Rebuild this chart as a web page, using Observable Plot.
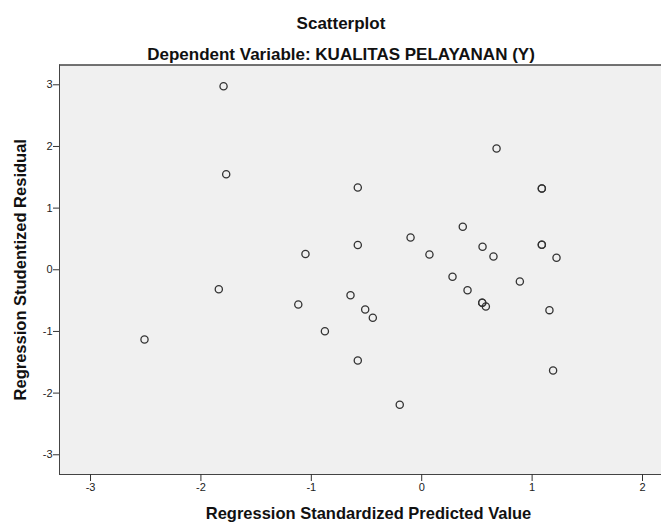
<!DOCTYPE html>
<html>
<head>
<meta charset="utf-8">
<script src="https://cdn.jsdelivr.net/npm/d3@7"></script>
<script src="https://cdn.jsdelivr.net/npm/@observablehq/plot@0.6"></script>
<style>
  html, body { margin: 0; padding: 0; background: #fff; overflow: hidden; }
  #wrap { width: 661px; height: 524px; position: relative; font-family: "Liberation Sans", Arial, sans-serif; }
  #hdr { position: relative; width: 661px; height: 62px; }
  .t { position: absolute; left: 0; width: 682px; text-align: center; font-weight: bold; font-size: 17px; line-height: 18px; color: #111; white-space: nowrap; }
  svg g[aria-label="y-axis label"] text { font-size: 16.5px; font-weight: bold; fill: #111; }
</style>
</head>
<body>
<div id="wrap">
  <div id="hdr">
    <div class="t" id="title" style="top:15px;"></div>
    <div class="t" id="subtitle" style="top:46px;"></div>
  </div>
  <div id="chart"></div>
</div>
<script>
const title = "Scatterplot";
const subtitle = "Dependent Variable: KUALITAS PELAYANAN (Y)";
const xLabel = "Regression Standardized Predicted Value";
const yLabel = "Regression Studentized Residual";

const predicted = [
  -1.795, -1.771, 0.678, -0.579, 1.088, 1.088, 0.372, -0.579, -1.053, -0.101,
  0.070, 0.551, 1.088, 1.088, 0.650, 1.221, -1.838, 0.279, 0.415, 0.889,
  -0.645, -1.118, -0.512, -0.443, -0.877, -2.511, -0.579, -0.199, 0.548, 0.548,
  0.581, 1.157, 1.190
];
const residual = [
  2.977, 1.550, 1.967, 1.335, 1.319, 1.319, 0.697, 0.402, 0.256, 0.524,
  0.248, 0.373, 0.405, 0.405, 0.216, 0.195, -0.315, -0.114, -0.331, -0.190,
  -0.412, -0.563, -0.644, -0.778, -0.996, -1.130, -1.471, -2.189, -0.535, -0.535,
  -0.595, -0.655, -1.633
];
const xTicks = [-3, -2, -1, 0, 1, 2];
const yTicks = [-3, -2, -1, 0, 1, 2, 3];
const xDomain = [-3.281, 2.172];
const yDomain = [-3.32, 3.321];

document.getElementById("title").textContent = title;
document.getElementById("subtitle").textContent = subtitle;

const points = predicted.map((x, i) => ({x, y: residual[i]}));

const chart = Plot.plot({
  width: 661,
  height: 462,
  marginLeft: 59,
  marginRight: 0,
  marginTop: 2.5,
  marginBottom: 50,
  style: { fontFamily: "'Liberation Sans', Arial, sans-serif", fontSize: "11px", color: "#222", background: "transparent" },
  x: { domain: xDomain },
  y: { domain: yDomain },
  marks: [
    Plot.frame({ fill: "#f0f0f0", stroke: null }),
    Plot.ruleX([xDomain[0]], { stroke: "#444", strokeWidth: 1 }),
    Plot.ruleY([yDomain[1]], { stroke: "#444", strokeWidth: 1.6 }),
    Plot.ruleY([yDomain[0]], { stroke: "#444", strokeWidth: 1.2 }),
    Plot.axisX({ ticks: xTicks, tickSize: 7, tickPadding: 2, tickFormat: d => String(d), label: null, stroke: "#333" }),
    Plot.text([xLabel], { text: d => d, frameAnchor: "bottom", lineAnchor: "bottom", dy: 44, dx: 8, fontSize: 16.5, fontWeight: "bold", fill: "#111" }),
    Plot.axisY({ ticks: yTicks, tickSize: 6, tickPadding: 1, tickFormat: d => String(d), label: yLabel, labelAnchor: "center", labelArrow: "none", labelOffset: 45, stroke: "#333" }),
    Plot.dot(points, { x: "x", y: "y", r: 3.6, stroke: "#333", strokeWidth: 1.3, fill: "none" })
  ]
});
document.getElementById("chart").appendChild(chart);
</script>
</body>
</html>
